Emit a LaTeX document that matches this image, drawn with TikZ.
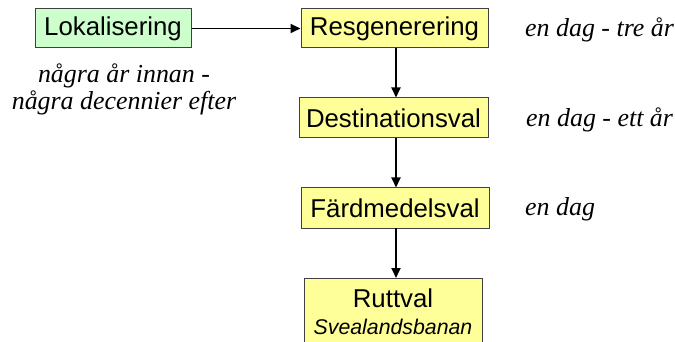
\documentclass[tikz,border=0pt]{standalone}
\usepackage{fontspec}
\setmainfont{Liberation Serif}
\setsansfont{Liberation Sans}
\usetikzlibrary{arrows.meta}
\definecolor{boxyellow}{HTML}{FFFF99}
\definecolor{boxgreen}{HTML}{CCFFCC}
\definecolor{boxline}{HTML}{404040}
\tikzset{
  stage/.style={draw=boxline, line width=1pt, fill=boxyellow, inner sep=0pt,
    font=\sffamily\fontsize{25.8}{28}\selectfont, text=black},
  lokbox/.style={stage, fill=boxgreen},
  timelabel/.style={font=\itshape\fontsize{25.9}{27}\selectfont, inner sep=0pt, anchor=west},
  flow/.style={line width=1.8pt, -{Triangle[length=10pt,width=9pt]}}
}
\begin{document}
\begin{tikzpicture}[x=1pt,y=-1pt]
\useasboundingbox (0,0) rectangle (675,342);
\begin{scope}
\clip (0,0) rectangle (675,342);
\node[lokbox, minimum width=156pt, minimum height=39pt] (lok) at (113,28.5) {Lokalisering};
\node[stage, minimum width=187pt, minimum height=39pt] (res) at (394.5,28.5) {Resgenerering};
\node[stage, minimum width=189pt, minimum height=40pt] (dest) at (393.5,118) {Destinationsval};
\node[stage, minimum width=188pt, minimum height=40pt] (fard) at (395,208) {Färdmedelsval};
\node[stage, minimum width=178pt, minimum height=80pt, anchor=north] (rutt) at (393,278) {};
\node[font=\sffamily\fontsize{25.8}{28}\selectfont, inner sep=0pt] (ruttname) at (393,298) {Ruttval};
\node[font=\sffamily\itshape\fontsize{21.3}{24}\selectfont, inner sep=0pt] (ruttsub) at (393,327) {Svealandsbanan};
\end{scope}

\draw[flow] (lok.east) -- (res.west);
\draw[flow] (396,48) coordinate (r1) -- (r1 |- dest.north);
\draw[flow] (396,138) coordinate (d1) -- (d1 |- fard.north);
\draw[flow] (396,228) coordinate (f1) -- (f1 |- rutt.north);

\node[font=\itshape\fontsize{25.9}{27}\selectfont, inner sep=0pt] (lok1) at (124,76) {några år innan -};
\node[font=\itshape\fontsize{25.9}{27}\selectfont, inner sep=0pt] (lok2) at (124,103) {några decennier efter};

\node[timelabel] (t1) at (525,30) {en dag - tre år};
\node[timelabel] (t2) at (526,120) {en dag - ett år};
\node[timelabel] (t3) at (525,209) {en dag};
\end{tikzpicture}
\end{document}
